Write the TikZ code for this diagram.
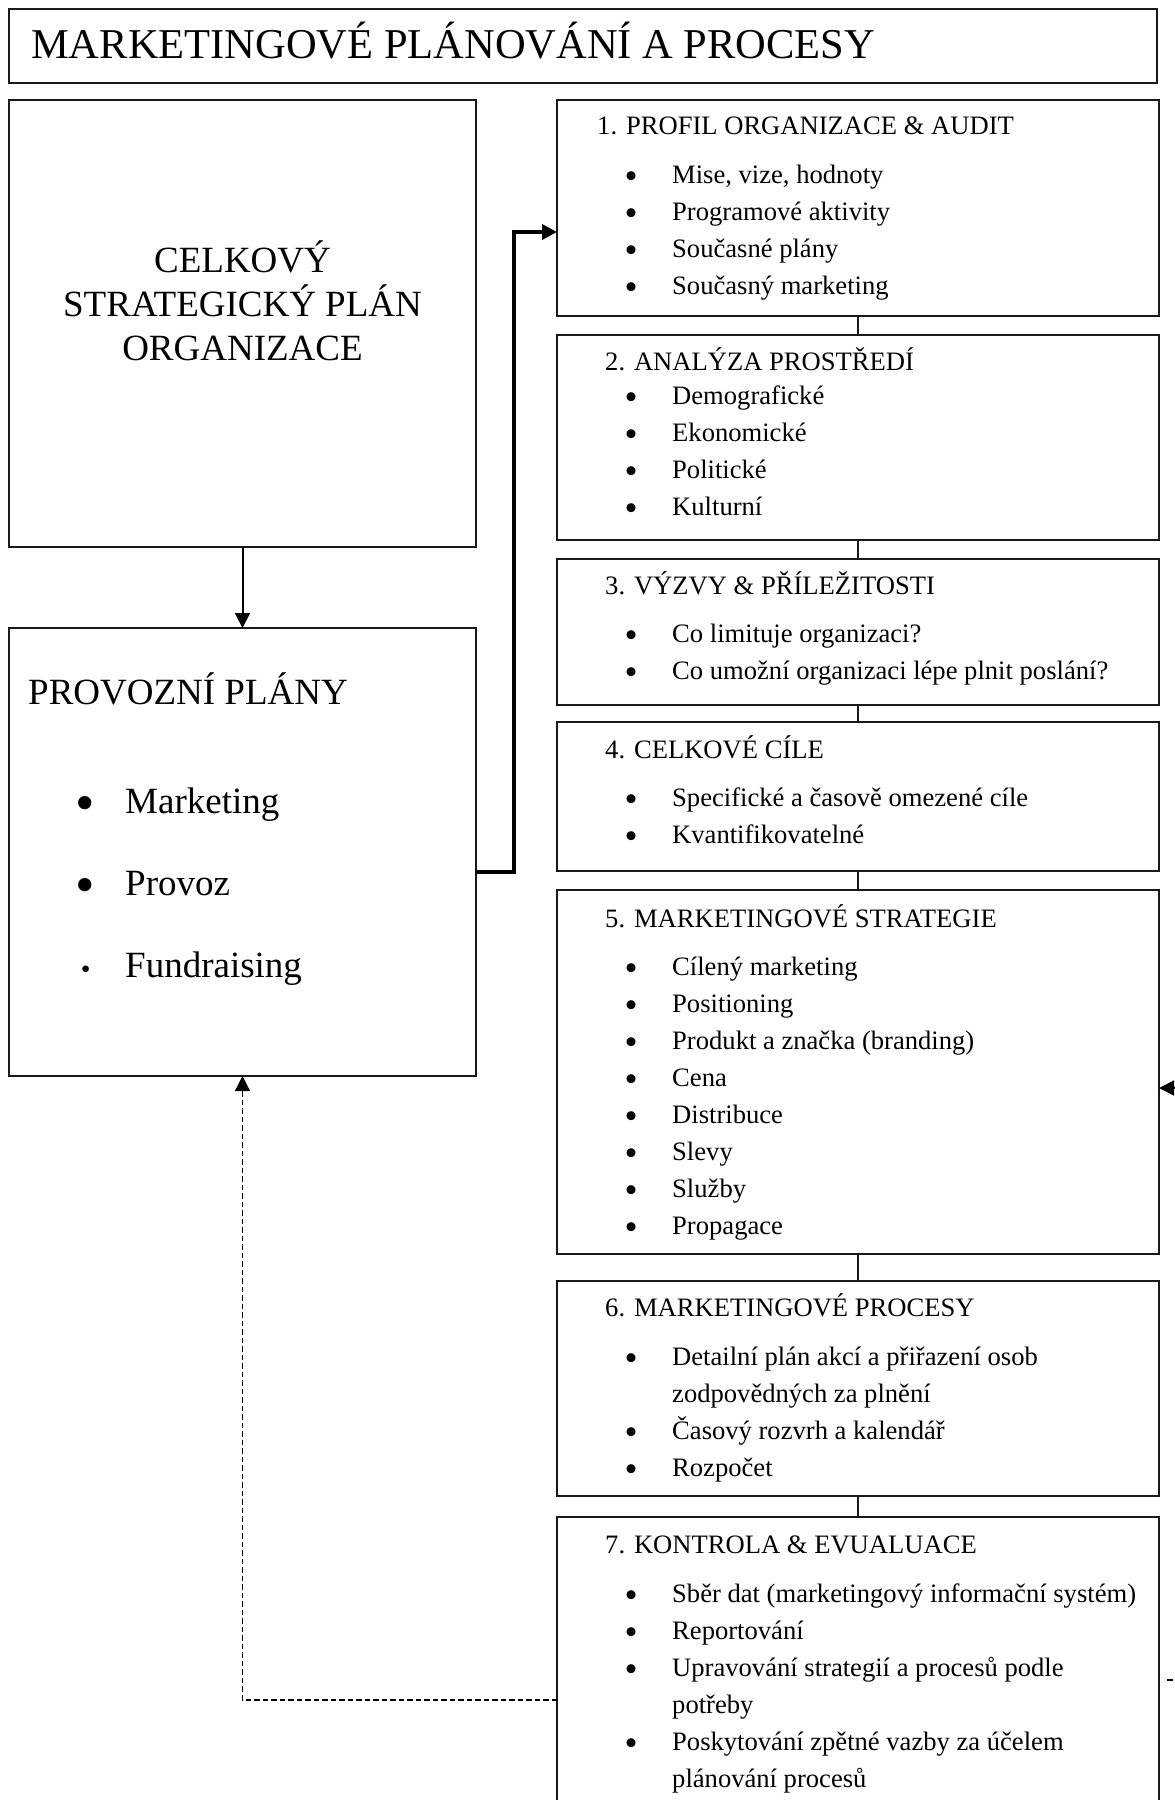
\documentclass[tikz,border=0pt]{standalone}
\usepackage{fontspec}
\setmainfont{Liberation Serif}
\usepackage{graphicx}
\usetikzlibrary{arrows.meta, positioning}
\newcommand\rbul{\makebox[0pt]{\raisebox{-5.2pt}{\scalebox{1.4}{\textbullet}}}}
\newcommand\itm{\makebox[67pt][l]{\hspace*{26pt}\rbul}}
\newcommand\lbul[2]{\makebox[97pt][l]{\hspace*{57.5pt}\makebox[0pt]{\raisebox{#2}{\scalebox{#1}{\textbullet}}}}}
\newcommand\hs{\rule{0pt}{30pt}}
\newcommand\hb{\rule{0pt}{40pt}}

\begin{document}
\begin{tikzpicture}[x=1pt, y=1pt,
  node distance=19pt,
  frame/.style={draw=black!90, line width=1.3pt, inner sep=0pt, outer sep=0pt, anchor=north west},
  lbox/.style={frame, minimum width=467pt, minimum height=448pt},
  rbox/.style={draw=black!90, line width=1.3pt, inner sep=0pt, outer sep=0pt, minimum width=602pt},
  txt/.style={inner sep=0pt, align=left, anchor=north west, font=\fontsize{26.6}{37}\selectfont},
  big/.style={inner sep=0pt, font=\fontsize{37}{44}\selectfont},
  link/.style={line width=1.2pt, draw=black!90},
  arrow/.style={-{Triangle[length=15pt,width=15pt]}, line width=2pt},
  thickarrow/.style={arrow, line width=3.5pt},
  fbarrow/.style={arrow, line width=1.3pt, dash pattern=on 5.5pt off 3pt}
]
  \useasboundingbox (0,0) rectangle (1175,-1800);
  \clip (0,0) rectangle (1175,-1800);

  % title
  \node[frame, minimum width=1148pt, minimum height=74pt] (tbox) at (9,-9) {};
  \node[inner sep=0pt, anchor=base west, font=\fontsize{42.5}{42.5}\selectfont] (title)
    at ([shift={(22,-49)}]tbox.north west) {MARKETINGOVÉ PLÁNOVÁNÍ A PROCESY};

  % left column
  \node[lbox, minimum height=447pt] (lb1) at (9,-100) {};
  \node[lbox, below=81pt of lb1] (lb2) {};
  \node[big, align=center, anchor=north] (strat) at ([yshift=-132pt]lb1.north)
    {\hb CELKOVÝ\\STRATEGICKÝ PLÁN\\ORGANIZACE};
  \node[big, anchor=north west, align=left, font=\fontsize{37}{82}\selectfont] (prov)
    at ([shift={(19,-36)}]lb2.north west)
    {\hb PROVOZNÍ PLÁNY\\[27pt]
     \lbul{1.5}{-8.4pt}Marketing\\
     \lbul{1.5}{-8.4pt}Provoz\\
     \lbul{0.75}{-1pt}Fundraising};

  % right column
  \node[rbox, anchor=north west, minimum height=216pt] (b1) at (557,-100) {};
  \node[rbox, below=of b1, minimum height=205pt] (b2) {};
  \node[rbox, below=of b2, minimum height=146pt] (b3) {};
  \node[rbox, below=17pt of b3, minimum height=149pt] (b4) {};
  \node[rbox, below=of b4, minimum height=364pt] (b5) {};
  \node[rbox, below=27pt of b5, minimum height=215pt] (b6) {};
  \node[rbox, below=21pt of b6, minimum height=300pt] (b7) {};

  \node[txt] (t1) at ([shift={(48,-4)}]b1.north west)
    {\hs\hspace*{-8pt}1. PROFIL ORGANIZACE \& AUDIT\\[12pt]
     \itm Mise, vize, hodnoty\\
     \itm Programové aktivity\\
     \itm Současné plány\\
     \itm Současný marketing};
  \node[txt] (t2) at ([shift={(48,-5)}]b2.north west)
    {\hs 2. ANALÝZA PROSTŘEDÍ\\[-3pt]
     \itm Demografické\\
     \itm Ekonomické\\
     \itm Politické\\
     \itm Kulturní};
  \node[txt] (t3) at ([shift={(48,-5)}]b3.north west)
    {\hs 3. VÝZVY \& PŘÍLEŽITOSTI\\[11pt]
     \itm Co limituje organizaci?\\
     \itm Co umožní organizaci lépe plnit poslání?};
  \node[txt] (t4) at ([shift={(48,-6)}]b4.north west)
    {\hs 4. CELKOVÉ CÍLE\\[11pt]
     \itm Specifické a časově omezené cíle\\
     \itm Kvantifikovatelné};
  \node[txt] (t5) at ([shift={(48,-7)}]b5.north west)
    {\hs 5. MARKETINGOVÉ STRATEGIE\\[11pt]
     \itm Cílený marketing\\
     \itm Positioning\\
     \itm Produkt a značka (branding)\\
     \itm Cena\\
     \itm Distribuce\\
     \itm Slevy\\
     \itm Služby\\
     \itm Propagace};
  \node[txt] (t6) at ([shift={(48,-5)}]b6.north west)
    {\hs 6. MARKETINGOVÉ PROCESY\\[12pt]
     \itm Detailní plán akcí a přiřazení osob\\
     \hspace*{67pt}zodpovědných za plnění\\
     \itm Časový rozvrh a kalendář\\
     \itm Rozpočet};
  \node[txt] (t7) at ([shift={(48,-6)}]b7.north west)
    {\hs 7. KONTROLA \& EVUALUACE\\[12pt]
     \itm Sběr dat (marketingový informační systém)\\
     \itm Reportování\\
     \itm Upravování strategií a procesů podle\\
     \hspace*{67pt}potřeby\\
     \itm Poskytování zpětné vazby za účelem\\
     \hspace*{67pt}plánování procesů};

  % connectors
  \draw[arrow] (lb1) -- (lb2);
  \draw[link] (b1) -- (b2);
  \draw[link] (b2) -- (b3);
  \draw[link] (b3) -- (b4);
  \draw[link] (b4) -- (b5);
  \draw[link] (b5) -- (b6);
  \draw[link] (b6) -- (b7);
  \draw[thickarrow] ([yshift=-20pt]lb2.east) -- ++(38,0) |- ([yshift=-24pt]b1.west);
  \draw[fbarrow] ([yshift=-33pt]b7.west) -| (lb2.south);
  \draw[fbarrow, shorten <=8pt] ([yshift=-13pt]b7.east) -- ++(30,0) |- ([yshift=-16pt]b5.east);
\end{tikzpicture}
\end{document}
